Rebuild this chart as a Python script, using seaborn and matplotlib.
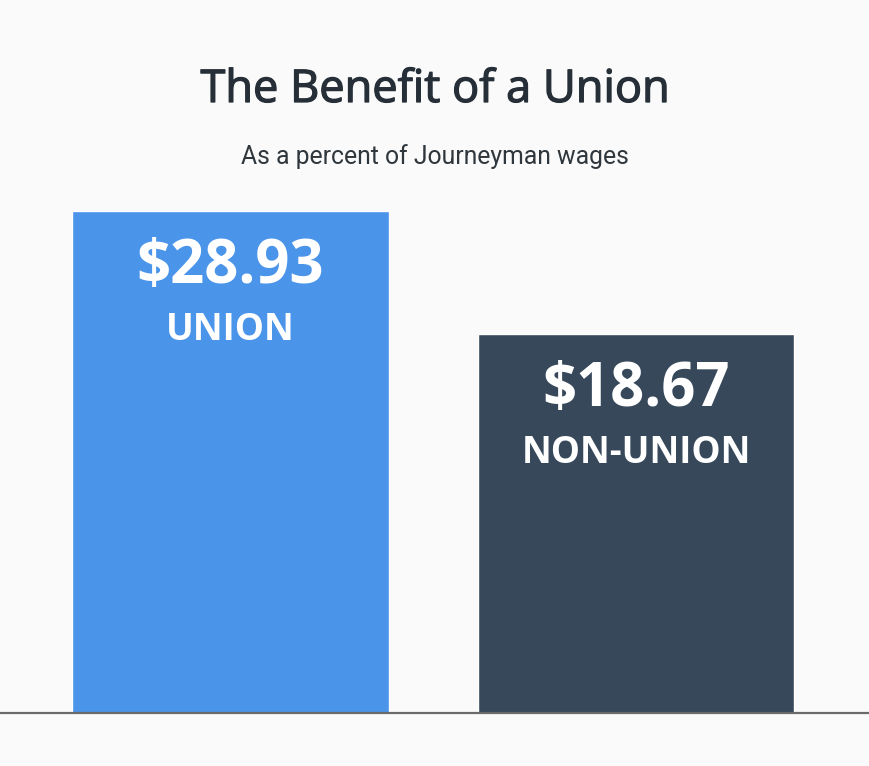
import seaborn as sns
import matplotlib.pyplot as plt
import matplotlib.patheffects as pe
import pandas as pd

# data
groups = ["UNION", "NON-UNION"]
wage_labels = ["$28.93", "$18.67"]
bar_heights = [100.0, 75.4]   # drawn height, relative to the union bar
bar_colors = ["#4a94ea", "#36485a"]

df = pd.DataFrame({"group": groups, "height": bar_heights})

sns.set_style("white")
plt.rcParams["font.family"] = ["Open Sans", "DejaVu Sans"]

fig = plt.figure(figsize=(8.7, 7.66), dpi=100, facecolor="#fafafa")
ax = fig.add_axes([0, 53 / 766, 1, 502 / 766])
ax.set_facecolor("#fafafa")

sns.barplot(data=df, x="group", y="height", hue="group", palette=bar_colors,
            width=0.78, saturation=1, legend=False, ax=ax)

ax.set_xlim(-0.568, 1.577)
ax.set_ylim(0, 100)
ax.set_xticks([])
ax.set_yticks([])
ax.set_xlabel("")
ax.set_ylabel("")
for side in ["top", "left", "right"]:
    ax.spines[side].set_visible(False)
ax.spines["bottom"].set_color("#6a6a6a")
ax.spines["bottom"].set_linewidth(1.6)

for i, (h, w, g) in enumerate(zip(bar_heights, wage_labels, groups)):
    ax.annotate(w, xy=(i, h), xytext=(0, -40.5), textcoords="offset points",
                ha="center", va="center", color="white", fontsize=43,
                fontweight="bold")
    ax.annotate(g, xy=(i, h), xytext=(0, -85.5), textcoords="offset points",
                ha="center", va="center", color="white", fontsize=26.5,
                fontweight="bold")

title_color = "#262f37"
fig.text(0.5, 1 - 90 / 766, "The Benefit of a Union", ha="center", va="center",
         fontsize=32.5, color=title_color,
         path_effects=[pe.withStroke(linewidth=0.9, foreground=title_color)])
fig.text(0.5, 1 - 157 / 766, "As a percent of Journeyman wages", ha="center",
         va="center", fontsize=17.8, color="#2f363c", family=["Roboto", "DejaVu Sans"])

fig.savefig("out.png", dpi=100, facecolor=fig.get_facecolor())
